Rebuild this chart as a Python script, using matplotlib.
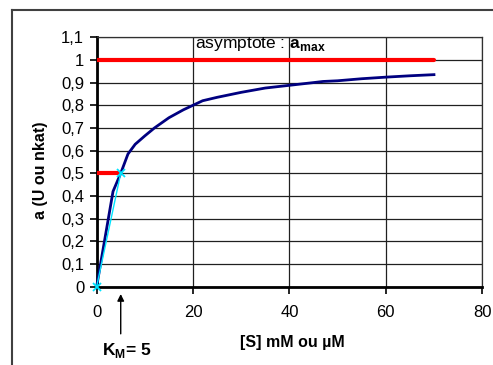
import matplotlib.pyplot as plt
from matplotlib.lines import Line2D

# Data
S = [0, 3.4, 5, 6.5, 8, 10, 12, 15, 18, 20, 22, 25, 30, 35, 40, 45, 47, 50, 55, 60, 65, 70]
a = [0, 0.42, 0.50, 0.585, 0.628, 0.665, 0.70, 0.745, 0.78, 0.80, 0.82, 0.835, 0.857, 0.876, 0.888, 0.90, 0.905, 0.908, 0.917, 0.924, 0.93, 0.935]
amax_x = [0, 70]
amax_y = [1, 1]
half_x = [0, 5]
half_y = [0.5, 0.5]
km_x = [0, 5]
km_y = [0, 0.5]
yticks = [0, 0.1, 0.2, 0.3, 0.4, 0.5, 0.6, 0.7, 0.8, 0.9, 1.0, 1.1]
ytick_labels = ['0', '0,1', '0,2', '0,3', '0,4', '0,5', '0,6', '0,7', '0,8', '0,9', '1', '1,1']
xticks = [0, 20, 40, 60, 80]

plt.rcParams['font.family'] = ['Liberation Sans', 'DejaVu Sans']
plt.rcParams['mathtext.fontset'] = 'custom'
plt.rcParams['mathtext.rm'] = 'Liberation Sans'
plt.rcParams['mathtext.bf'] = 'Liberation Sans:bold'

fig = plt.figure(figsize=(4.93, 3.65), dpi=100)
ax = fig.add_axes([0.196, 0.2145, 0.782, 0.6835])

# outer frame (cut off on right and bottom)
fig.add_artist(Line2D([12/493, 1.0], [1 - 10/365, 1 - 10/365], color='#404040', lw=1.5, transform=fig.transFigure))
fig.add_artist(Line2D([12/493, 12/493], [0, 1 - 10/365], color='#404040', lw=1.5, transform=fig.transFigure))

ax.plot(amax_x, amax_y, color='#ff0000', lw=3, solid_capstyle='round', zorder=3)
ax.plot(half_x, half_y, color='#ff0000', lw=3, solid_capstyle='butt', zorder=3, clip_on=False)
ax.plot(S, a, color='#000080', lw=2, zorder=4, clip_on=False)
ax.plot(km_x, km_y, color='#00e5ff', lw=1, marker='x', ms=6, mew=1.3, zorder=5, clip_on=False)

ax.set_xlim(0, 80)
ax.set_ylim(0, 1.1)
ax.set_xticks(xticks)
ax.set_xticklabels([str(v) for v in xticks])
ax.set_yticks(yticks)
ax.set_yticklabels(ytick_labels)
ax.tick_params(axis='both', direction='out', length=5, width=1.2, labelsize=12)
ax.tick_params(axis='x', pad=8)
ax.tick_params(axis='y', pad=4)
ax.grid(True, color='#202020', lw=0.9)
ax.set_axisbelow(True)
for side in ['top', 'right']:
    ax.spines[side].set_linewidth(0.9)
    ax.spines[side].set_color('#303030')
for side in ['left', 'bottom']:
    ax.spines[side].set_linewidth(2)

ax.text(20.4, 1.068, r'asymptote : $\mathbf{a}_{\mathbf{max}}$', fontsize=12.5, va='center', ha='left')

fig.text(40/493, 1 - 170/365, 'a (U ou nkat)', rotation=90, fontsize=11.5, fontweight='bold', ha='center', va='center')
fig.text(292/493, 1 - 342/365, '[S] mM ou µM', fontsize=11.5, fontweight='bold', ha='center', va='center')
fig.text(127/493, 1 - 350/365, r'$\mathbf{K}_{\mathbf{M}}$= 5', fontsize=12.5, fontweight='bold', ha='center', va='center')

ax.annotate('', xy=(5, -0.02), xytext=(5, -0.22), xycoords='data', textcoords='data',
            arrowprops=dict(arrowstyle='-|>', color='black', lw=1, mutation_scale=10), annotation_clip=False)

plt.savefig('out.png', dpi=100)
